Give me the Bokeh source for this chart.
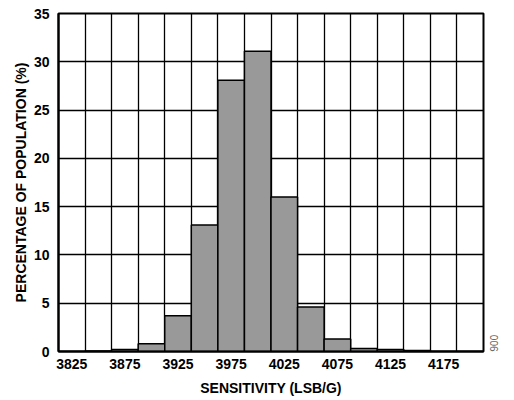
from bokeh.plotting import figure
from bokeh.models import FixedTicker, Range1d, Title
from bokeh.embed import file_html
from bokeh.resources import INLINE

# Data
bin_centers = [3825, 3850, 3875, 3900, 3925, 3950, 3975, 4000, 4025, 4050, 4075, 4100, 4125, 4150, 4175, 4200]
percentages = [0.0, 0.05, 0.2, 0.8, 3.7, 13.1, 28.1, 31.1, 16.0, 4.6, 1.3, 0.3, 0.2, 0.1, 0.0, 0.0]
x_tick_labels = [3825, 3875, 3925, 3975, 4025, 4075, 4125, 4175]
y_tick_labels = [0, 5, 10, 15, 20, 25, 30, 35]
bin_width = 25
figure_number = "006"

FONT = "Liberation Sans"

p = figure(width=512, height=398, output_backend="svg", toolbar_location=None,
           x_range=Range1d(bin_centers[0] - bin_width / 2, bin_centers[-1] + bin_width / 2),
           y_range=Range1d(0, 35),
           min_border_left=58, min_border_right=29, min_border_top=13, min_border_bottom=47)
p.frame_width = 425
p.frame_height = 338

p.vbar(x=bin_centers, top=percentages, width=bin_width, bottom=0,
       fill_color="#999999", line_color="black", line_width=1.5)

# axes
p.xaxis.ticker = FixedTicker(ticks=x_tick_labels)
p.yaxis.ticker = FixedTicker(ticks=y_tick_labels)
for ax in (p.xaxis[0], p.yaxis[0]):
    ax.major_tick_line_color = None
    ax.minor_tick_line_color = None
    ax.axis_line_color = "black"
    ax.axis_line_width = 2
    ax.major_label_text_font = FONT
    ax.major_label_text_font_style = "bold"
    ax.major_label_text_font_size = "14px"
    ax.major_label_text_color = "black"
    ax.axis_label_text_font = FONT
    ax.axis_label_text_font_style = "bold"
    ax.axis_label_text_font_size = "14px"
    ax.axis_label_text_color = "black"

p.xaxis.axis_label = "SENSITIVITY (LSB/G)"
p.yaxis.axis_label = "PERCENTAGE OF POPULATION (%)"
p.xaxis.major_label_standoff = 1
p.yaxis.major_label_standoff = 3
p.xaxis.axis_label_standoff = 8
p.yaxis.axis_label_standoff = 2

# grid
boundaries = [c + bin_width / 2 for c in bin_centers[:-1]]
p.xgrid.ticker = FixedTicker(ticks=boundaries)
p.ygrid.ticker = FixedTicker(ticks=y_tick_labels)
for g in (p.xgrid[0], p.ygrid[0]):
    g.grid_line_color = "black"
    g.grid_line_width = 1.3
    g.grid_line_alpha = 1.0

p.outline_line_color = "black"
p.outline_line_width = 2
p.outline_line_alpha = 1.0
p.background_fill_color = "white"
p.border_fill_color = "white"

# small figure number at the right edge
p.add_layout(Title(text=figure_number, align="right", standoff=12,
                   text_font=FONT, text_font_size="10px", text_font_style="normal",
                   text_color="#666666"), "right")

open("out.html", "w").write(file_html(p, INLINE))
